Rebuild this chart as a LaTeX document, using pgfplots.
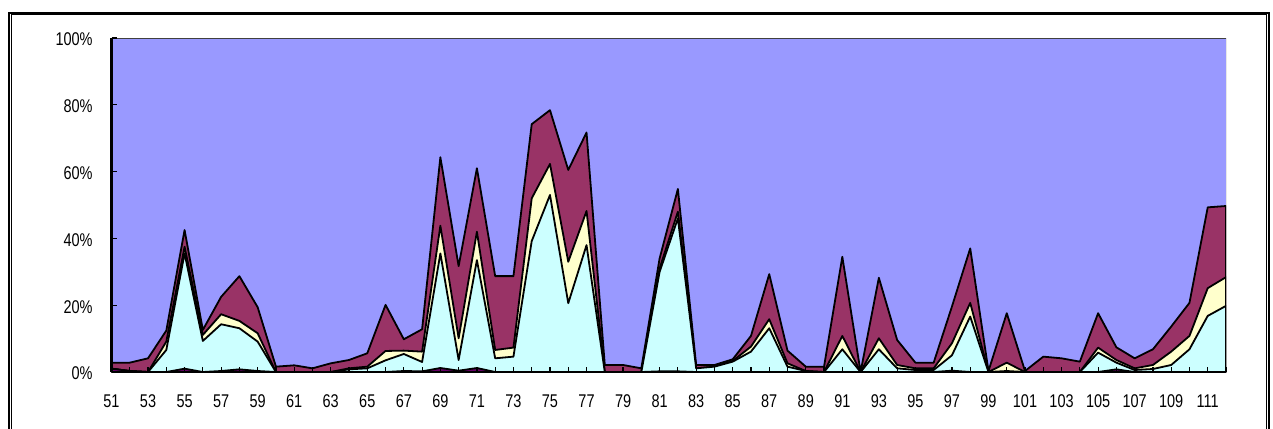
\documentclass[border=0pt]{standalone}
\usepackage{pgfplots}
\pgfplotsset{compat=1.18}
\usepackage{pgfplotstable}
\usepackage{fontspec}
\setmainfont{Liberation Sans}
\usepackage{graphicx}

\definecolor{periwinkle}{HTML}{9999FF}
\definecolor{plum}{HTML}{993366}
\definecolor{cream}{HTML}{FFFFCC}
\definecolor{aqua}{HTML}{CCFFFF}
\definecolor{grape}{HTML}{660066}

% narrow, tall lettering for the tick labels
\newcommand\tall[1]{\scalebox{1}[1.27]{#1}}

% cumulative shares in percent: c1 bottom band, c2 + cyan, c3 + cream, c4 + plum
\pgfplotstableread{
x   c1   c2    c3    c4
51  1.0  1.0   1.0   2.8
52  0.3  0.3   0.3   2.8
53  0    0     0     4.1
54  0    6.6   9.1   12.4
55  1.0  35.5  37.5  42.5
56  0    9.3   11.1  12.6
57  0.3  14.3  17.3  22.5
58  0.8  13.1  15.3  28.7
59  0.3  9.1   11.6  19.4
60  0    0     0     1.6
61  0    0     0     2.0
62  0    0     0     1.1
63  0    0     0     2.6
64  0    0.8   1.1   3.6
65  0    1.1   1.6   5.6
66  0    3.5   6.3   20.1
67  0.3  5.4   6.4   9.8
68  0.2  3.0   6.1   12.8
69  1.2  35.5  43.8  64.3
70  0.4  3.6   10.1  31.7
71  1.2  33.5  42.0  61.0
72  0    4.1   6.6   28.7
73  0    4.6   7.3   28.7
74  0    39.2  52.0  74.2
75  0    53.0  62.3  78.4
76  0    20.6  33.0  60.5
77  0    38.0  48.2  71.7
78  0    0     0     2.1
79  0    0     0     2.1
80  0    0     0     1.1
81  0.2  30.0  31.0  34.0
82  0.2  46.0  48.0  54.8
83  0    1.1   1.1   2.1
84  0    1.6   1.6   2.1
85  0    3.1   3.3   3.8
86  0    6.1   7.6   10.8
87  0    13.1  15.8  29.3
88  0    1.6   2.6   6.4
89  0    0.3   0.3   1.6
90  0    0     0     1.6
91  0    6.8   10.8  34.5
92  0    0     0     0
93  0    6.8   10.1  28.2
94  0    1.1   2.1   9.6
95  0    0.6   1.1   2.8
96  0    0.6   1.1   2.8
97  0.4  5.0   8.6   19.6
98  0    16.6  20.7  37.0
99  0    0     0     0.3
100 0    0.3   2.8   17.6
101 0    0     0     0.3
102 0    0     0     4.6
103 0    0     0     4.1
104 0    0     0     3.1
105 0    5.8   7.3   17.6
106 0.8  2.8   3.6   7.4
107 0    0.6   1.1   4.1
108 0    0.9   2.1   6.8
109 0    2.1   6.1   13.6
110 0    6.8   10.8  20.7
111 0    16.8  25.1  49.3
112 0    19.8  28.4  49.7
}\shares

\begin{document}
\begin{tikzpicture}
\useasboundingbox (0,0) rectangle (636.5pt,-214pt);
% chart frame
\draw[line width=1pt] (4.25pt,-6.5pt) rectangle (634.5pt,-240pt);
\draw[line width=0.5pt] (5.75pt,-7.25pt) rectangle (633pt,-240pt);
\begin{axis}[
  at={(55.75pt,-186pt)}, anchor=south west,
  scale only axis, width=557.25pt, height=167pt,
  xmin=51, xmax=112, ymin=0, ymax=100,
  enlargelimits=false,
  axis on top,
  axis background/.style={fill=periwinkle},
  axis x line*=bottom, axis y line*=left,
  axis line style={-, black, line width=1.25pt},
  tick align=inside,
  xtick pos=bottom, ytick pos=left,
  major tick length=2.5pt, minor tick length=2.5pt,
  tick style={black, line width=0.6pt},
  xtick={51,53,...,111},
  minor xtick={52,54,...,112},
  xticklabels={\tall{51},\tall{53},\tall{55},\tall{57},\tall{59},\tall{61},\tall{63},\tall{65},\tall{67},\tall{69},\tall{71},\tall{73},\tall{75},\tall{77},\tall{79},\tall{81},\tall{83},\tall{85},\tall{87},\tall{89},\tall{91},\tall{93},\tall{95},\tall{97},\tall{99},\tall{101},\tall{103},\tall{105},\tall{107},\tall{109},\tall{111}},
  ytick={0,20,40,60,80,100},
  yticklabels={\tall{0\%},\tall{20\%},\tall{40\%},\tall{60\%},\tall{80\%},\tall{100\%}},
  ticklabel style={font=\fontsize{7.25pt}{8pt}\selectfont},
  xticklabel style={anchor=center, inner sep=0pt, yshift=-14.5pt},
  yticklabel style={anchor=east, inner sep=0pt, xshift=-9.25pt, yshift=-0.75pt},
  area outline/.style={draw=black, line width=0.9pt, line join=round},
]
\addplot[fill=plum, area outline] table[x=x, y=c4] {\shares} \closedcycle;
\addplot[fill=cream, area outline] table[x=x, y=c3] {\shares} \closedcycle;
\addplot[fill=aqua, area outline] table[x=x, y=c2] {\shares} \closedcycle;
\addplot[fill=grape, area outline] table[x=x, y=c1] {\shares} \closedcycle;
% plot area border on the top and right
\draw[line width=0.5pt, black!75] (rel axis cs:0,1) -- (rel axis cs:1,1) -- (rel axis cs:1,0);
\end{axis}
\end{tikzpicture}
\end{document}
